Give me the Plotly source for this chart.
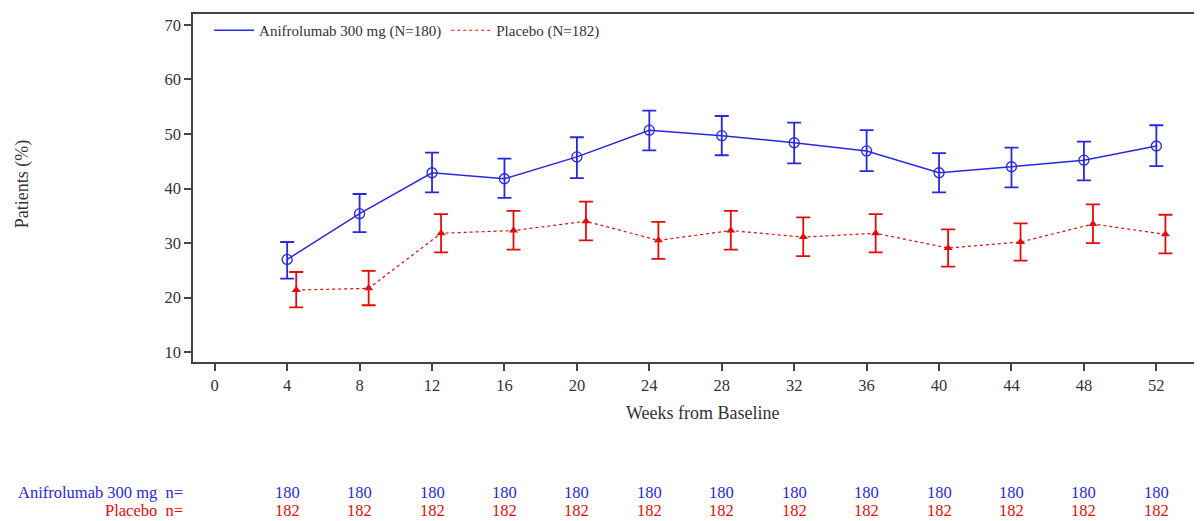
import plotly.graph_objects as go

weeks = [4, 8, 12, 16, 20, 24, 28, 32, 36, 40, 44, 48, 52]

anif_mean = [27.0, 35.4, 42.9, 41.8, 45.8, 50.7, 49.7, 48.4, 46.9, 42.9, 44.0, 45.2, 47.8]
anif_upper = [30.2, 39.0, 46.6, 45.5, 49.4, 54.3, 53.3, 52.1, 50.7, 46.5, 47.5, 48.6, 51.6]
anif_lower = [23.5, 32.0, 39.3, 38.3, 41.9, 47.0, 46.1, 44.6, 43.2, 39.3, 40.2, 41.5, 44.1]

plac_mean = [21.4, 21.7, 31.8, 32.3, 34.0, 30.5, 32.3, 31.1, 31.8, 29.1, 30.2, 33.5, 31.6]
plac_upper = [24.7, 24.9, 35.3, 35.9, 37.6, 33.9, 35.9, 34.7, 35.3, 32.5, 33.6, 37.1, 35.2]
plac_lower = [18.2, 18.6, 28.3, 28.8, 30.5, 27.1, 28.8, 27.6, 28.3, 25.7, 26.8, 30.0, 28.1]

anif_n = [180] * 13
plac_n = [182] * 13

x_ticks = list(range(0, 53, 4))
y_ticks = [10, 20, 30, 40, 50, 60, 70]

plac_offset = 0.5
plac_x = [w + plac_offset for w in weeks]

BLUE = "rgb(40,40,225)"
RED = "rgb(232,10,10)"
FONT = "Liberation Serif"
AXC = "#444444"
TXT = "#333333"

fig = go.Figure()

fig.add_trace(go.Scatter(
    x=weeks, y=anif_mean, mode="lines",
    line=dict(color=BLUE, width=1.5),
    name="Anifrolumab 300 mg (N=180)",
))
fig.add_trace(go.Scatter(
    x=plac_x, y=plac_mean, mode="lines",
    line=dict(color=RED, width=1.2, dash="dot"),
    name="Placebo (N=182)",
))
fig.add_trace(go.Scatter(
    x=weeks, y=anif_mean, mode="markers", showlegend=False,
    marker=dict(symbol="circle-open", size=10, color=BLUE, line=dict(width=1.3)),
    error_y=dict(type="data", symmetric=False,
                 array=[u - m for u, m in zip(anif_upper, anif_mean)],
                 arrayminus=[m - l for m, l in zip(anif_mean, anif_lower)],
                 color=BLUE, thickness=1.8, width=7),
))
fig.add_trace(go.Scatter(
    x=plac_x, y=plac_mean, mode="markers", showlegend=False,
    marker=dict(symbol="triangle-up", size=8, color=RED),
    error_y=dict(type="data", symmetric=False,
                 array=[u - m for u, m in zip(plac_upper, plac_mean)],
                 arrayminus=[m - l for m, l in zip(plac_mean, plac_lower)],
                 color=RED, thickness=1.8, width=7),
))

ROW1 = -0.374
ROW2 = -0.426
annotations = []
annotations.append(dict(text="Weeks from Baseline", xref="paper", yref="paper",
                        x=0.507, y=-0.147, xanchor="center", yanchor="middle",
                        showarrow=False, font=dict(family=FONT, size=18, color=TXT)))
annotations.append(dict(text="Patients (%)", xref="paper", yref="paper",
                        x=-0.17, y=0.511, xanchor="center", yanchor="middle", textangle=-90,
                        showarrow=False, font=dict(family=FONT, size=18, color=TXT)))
annotations.append(dict(text="Anifrolumab 300 mg  n=", xref="paper", yref="paper",
                        x=-0.008, y=ROW1, xanchor="right", yanchor="middle",
                        showarrow=False, font=dict(family=FONT, size=16.5, color=BLUE)))
annotations.append(dict(text="Placebo  n=", xref="paper", yref="paper",
                        x=-0.008, y=ROW2, xanchor="right", yanchor="middle",
                        showarrow=False, font=dict(family=FONT, size=16.5, color=RED)))
for w, n in zip(weeks, anif_n):
    annotations.append(dict(text=str(n), xref="x", yref="paper", x=w, y=ROW1,
                            xanchor="center", yanchor="middle", showarrow=False,
                            font=dict(family=FONT, size=16.5, color=BLUE)))
for w, n in zip(weeks, plac_n):
    annotations.append(dict(text=str(n), xref="x", yref="paper", x=w, y=ROW2,
                            xanchor="center", yanchor="middle", showarrow=False,
                            font=dict(family=FONT, size=16.5, color=RED)))

# The page body has an 8px default margin; size the figure to compensate.
fig.update_layout(
    width=1194, height=513,
    margin=dict(l=185, r=2, t=6, b=159),
    paper_bgcolor="white", plot_bgcolor="white",
    font=dict(family=FONT, size=16, color=TXT),
    showlegend=True,
    legend=dict(orientation="h", x=0.016, y=1.0, xanchor="left", yanchor="top",
                bgcolor="rgba(0,0,0,0)", font=dict(family=FONT, size=15, color=TXT),
                itemwidth=40, tracegroupgap=0),
    xaxis=dict(range=[-1.2, 54.3], tickmode="array", tickvals=x_ticks,
               ticktext=[str(t) for t in x_ticks],
               showgrid=False, zeroline=False, showline=True, linecolor=AXC, linewidth=1.5,
               mirror=True, ticks="outside", ticklen=7, tickcolor=AXC, tickwidth=1.5,
               tickfont=dict(family=FONT, size=16.5, color=TXT)),
    yaxis=dict(range=[8.2, 72.0], tickmode="array", tickvals=y_ticks,
               ticktext=[str(t) for t in y_ticks],
               showgrid=False, zeroline=False, showline=True, linecolor=AXC, linewidth=1.5,
               mirror=True, ticks="outside", ticklen=7, tickcolor=AXC, tickwidth=1.5,
               tickfont=dict(family=FONT, size=16.5, color=TXT)),
    annotations=annotations,
)

fig.write_html("out.html")
